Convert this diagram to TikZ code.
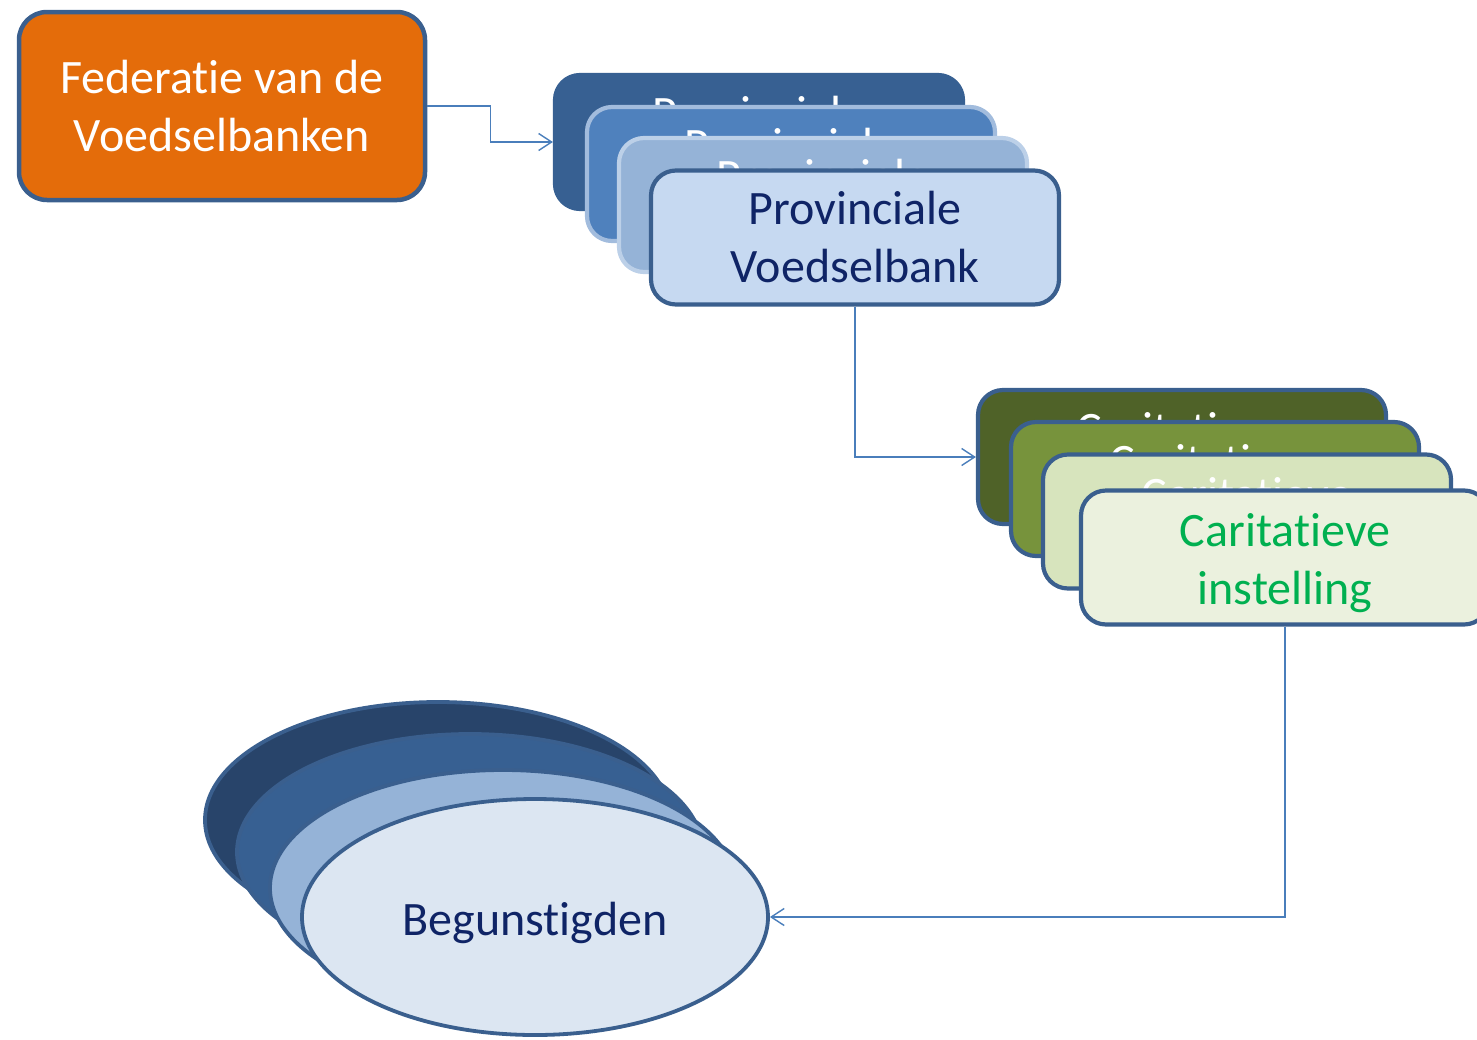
\documentclass[tikz,border=0pt]{standalone}
\usepackage{fontspec}
\setmainfont[Ligatures=NoCommon]{Carlito}
\usetikzlibrary{arrows.meta,shapes.geometric}
\definecolor{bordblue}{HTML}{3A5F8E}
\definecolor{conn}{HTML}{4A7EBB}
\definecolor{navytext}{HTML}{0F2466}
\definecolor{fedorange}{HTML}{E46C0A}
\definecolor{pA}{HTML}{376092}
\definecolor{pB}{HTML}{4F81BD}
\definecolor{pBb}{HTML}{A2BCDD}
\definecolor{pC}{HTML}{95B3D7}
\definecolor{pCb}{HTML}{BCD0E8}
\definecolor{pD}{HTML}{C6D9F1}
\definecolor{cA}{HTML}{4F6228}
\definecolor{cB}{HTML}{77933C}
\definecolor{cC}{HTML}{D7E4BD}
\definecolor{cD}{HTML}{EBF1DE}
\definecolor{greentext}{HTML}{00B050}
\definecolor{eA}{HTML}{28446A}
\definecolor{eB}{HTML}{376092}
\definecolor{eC}{HTML}{95B3D7}
\definecolor{eD}{HTML}{DCE6F2}
\newcommand{\cstrut}{\rule{0pt}{44pt}}
\tikzset{
  bigfont/.style={font=\fontsize{48}{58}\selectfont},
  cardbox/.style={draw=bordblue, line width=4.2pt, rounded corners=25pt,
    minimum width=408pt, minimum height=134pt, inner sep=0pt,
    align=center, bigfont, text=white},
  ellbox/.style={ellipse, draw=bordblue, line width=3.8pt,
    minimum width=466pt, minimum height=236pt, inner sep=0pt, bigfont},
  connector/.style={draw=conn, line width=1.4pt,
    -{Straight Barb[length=13pt,width=17pt,line width=1.4pt]}}
}
\begin{document}
\begin{tikzpicture}[x=1pt,y=-1pt]
\useasboundingbox (0,0) rectangle (1477,1039);
% Federatie
\node[cardbox, fill=fedorange, line width=4.5pt, rounded corners=28pt,
      minimum width=406pt, minimum height=188pt] (fed) at (222,106)
      {Federatie van de\\Voedselbanken};
% Provinciale stack
\node[cardbox, fill=pA, draw=pA] (p1) at (759,142) {Provinciale\\Voedselbank};
\node[cardbox, fill=pB, draw=pBb] (p2) at (791,174) {Provinciale\\Voedselbank};
\node[cardbox, fill=pC, draw=pCb] (p3) at (823,205) {Provinciale\\Voedselbank};
\node[cardbox, fill=pD, text=navytext] (p4) at (855,237.5) {Provinciale\\Voedselbank};
% Caritatieve stack
\node[cardbox, fill=cA] (c1) at (1182,457) {\cstrut Caritatieve\\instelling};
\node[cardbox, fill=cB] (c2) at (1215,489) {\cstrut Caritatieve\\instelling};
\node[cardbox, fill=cC] (c3) at (1247,521.5) {\cstrut Caritatieve\\instelling};
\node[cardbox, fill=cD, text=greentext] (c4) at (1285,557.5) {\cstrut Caritatieve\\instelling};
% Ellipses
\node[ellbox, fill=eA] (e1) at (438,820) {};
\node[ellbox, fill=eB] (e2) at (470,852) {};
\node[ellbox, fill=eC] (e3) at (503,888) {};
\node[ellbox, fill=eD, text=navytext, text height=44pt, text depth=8pt] (e4) at (535,917) {Begunstigden};
% Connectors
\draw[connector] (fed.east) -- ++(63,0) |- (p1.west);
\draw[connector] (p4.south) |- (c1.west);
\draw[connector] (c4.south) |- (e4.east);
\end{tikzpicture}
\end{document}
